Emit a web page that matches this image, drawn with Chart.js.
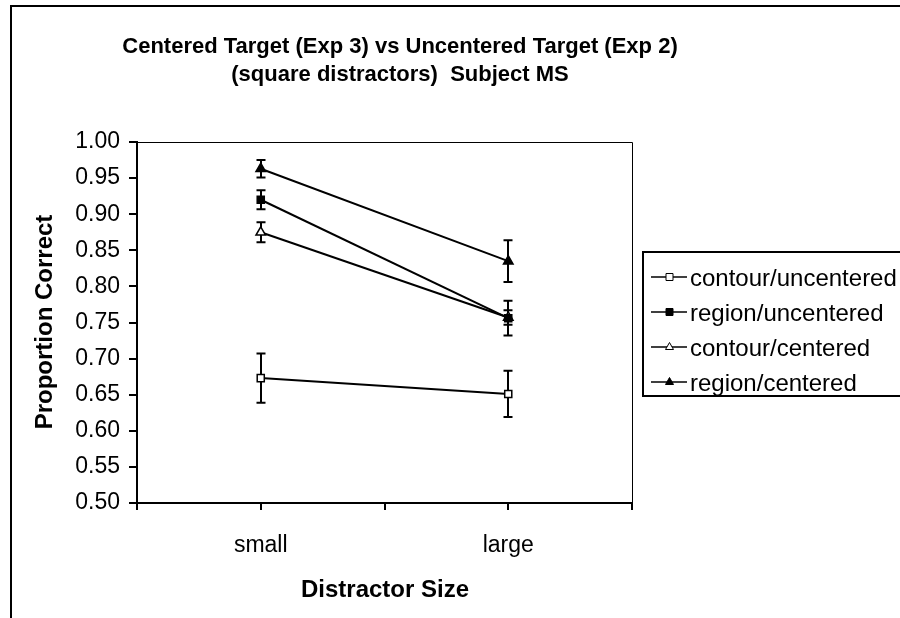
<!DOCTYPE html>
<html><head><meta charset="utf-8">
<script src="https://cdn.jsdelivr.net/npm/chart.js@4"></script>
<style>html,body{margin:0;padding:0;background:#fff;overflow:hidden;}</style>
</head><body>
<canvas id="c" width="900" height="618" style="width:900px;height:618px;display:block"></canvas>
<script>
// ---- data ----
const categories = ['small', 'large'];
const categoryPositions = [1, 3];
const xTickPositions = [0, 1, 2, 3, 4];
const yTickValues = [0.50, 0.55, 0.60, 0.65, 0.70, 0.75, 0.80, 0.85, 0.90, 0.95, 1.00];
const seriesLabels = ['contour/uncentered', 'region/uncentered', 'contour/centered', 'region/centered'];
const contourUncentered    = [0.673, 0.651];
const contourUncenteredErr = [0.034, 0.032];
const regionUncentered     = [0.920, 0.756];
const regionUncenteredErr  = [0.013, 0.024];
const contourCentered      = [0.875, 0.757];
const contourCenteredErr   = [0.014, 0.010];
const regionCentered       = [0.963, 0.835];
const regionCenteredErr    = [0.012, 0.029];
const titleLines = ['Centered Target (Exp 3) vs Uncentered Target (Exp 2)', '(square distractors)  Subject MS'];
const xTitle = 'Distractor Size';
const yTitle = 'Proportion Correct';

const FONT = '"Liberation Sans", Arial, sans-serif';

function mk(label, vals, errs, style, fill) {
  return {
    label: label,
    data: categoryPositions.map((x, i) => ({x: x, y: vals[i]})),
    errors: errs,
    borderColor: '#000', borderWidth: 2, tension: 0,
    pointStyle: style, pointRadius: style === 'rect' ? 5 : 5.5,
    pointBackgroundColor: fill, pointBorderColor: '#000', pointBorderWidth: 1.5,
    markerFill: fill
  };
}
const datasets = [
  mk(seriesLabels[0], contourUncentered, contourUncenteredErr, 'rect', '#fff'),
  mk(seriesLabels[1], regionUncentered, regionUncenteredErr, 'rect', '#000'),
  mk(seriesLabels[2], contourCentered, contourCenteredErr, 'triangle', '#fff'),
  mk(seriesLabels[3], regionCentered, regionCenteredErr, 'triangle', '#000')
];

const decor = {
  id: 'decor',
  beforeDraw(chart) {
    const ctx = chart.ctx;
    ctx.save();
    ctx.fillStyle = '#fff';
    ctx.fillRect(0, 0, chart.width, chart.height);
    ctx.strokeStyle = '#000'; ctx.lineWidth = 2;
    ctx.beginPath();
    ctx.moveTo(11, 640); ctx.lineTo(11, 6); ctx.lineTo(920, 6);
    ctx.stroke();
    ctx.restore();
  },
  beforeDatasetsDraw(chart) {
    const ctx = chart.ctx, xs = chart.scales.x, ys = chart.scales.y;
    ctx.save();
    ctx.strokeStyle = '#000'; ctx.lineWidth = 2;
    chart.data.datasets.forEach(ds => {
      ds.data.forEach((p, i) => {
        const e = ds.errors[i];
        const x = Math.round(xs.getPixelForValue(p.x));
        const y1 = ys.getPixelForValue(p.y + e), y2 = ys.getPixelForValue(p.y - e);
        ctx.beginPath();
        ctx.moveTo(x, y1); ctx.lineTo(x, y2);
        ctx.moveTo(x - 4.5, y1); ctx.lineTo(x + 4.5, y1);
        ctx.moveTo(x - 4.5, y2); ctx.lineTo(x + 4.5, y2);
        ctx.stroke();
      });
    });
    ctx.restore();
  },
  afterDraw(chart) {
    const ctx = chart.ctx, a = chart.chartArea;
    ctx.save();
    // plot frame top/right
    ctx.strokeStyle = '#000'; ctx.lineWidth = 1;
    ctx.beginPath();
    ctx.moveTo(a.left, Math.round(a.top) + 0.5);
    ctx.lineTo(Math.round(a.right) + 0.5, Math.round(a.top) + 0.5);
    ctx.lineTo(Math.round(a.right) + 0.5, a.bottom);
    ctx.stroke();
    // title
    ctx.fillStyle = '#000';
    ctx.textAlign = 'center'; ctx.textBaseline = 'middle';
    ctx.font = 'bold 22px ' + FONT;
    ctx.fillText(titleLines[0], 400, 47);
    ctx.fillText(titleLines[1], 400, 75);
    // axis titles
    ctx.font = 'bold 24px ' + FONT;
    ctx.fillText(xTitle, 385, 590);
    ctx.save();
    ctx.translate(45, 322);
    ctx.rotate(-Math.PI / 2);
    ctx.fillText(yTitle, 0, 0);
    ctx.restore();
    // legend
    const bx = 643, by = 252, bw = 300, bh = 144;
    ctx.lineWidth = 2;
    ctx.strokeRect(bx, by, bw, bh);
    ctx.save();
    ctx.beginPath(); ctx.rect(bx + 1, by + 1, bw - 2, bh - 2); ctx.clip();
    const baselines = [286, 321, 356, 391];
    ctx.font = '24px ' + FONT;
    ctx.textAlign = 'left'; ctx.textBaseline = 'alphabetic';
    chart.data.datasets.forEach((ds, i) => {
      const yb = baselines[i];
      const ym = yb - 9;
      ctx.strokeStyle = '#000'; ctx.lineWidth = 1.5;
      ctx.beginPath(); ctx.moveTo(651, ym); ctx.lineTo(687, ym); ctx.stroke();
      ctx.fillStyle = ds.markerFill; ctx.lineWidth = 1;
      ctx.beginPath();
      if (ds.pointStyle === 'rect') {
        ctx.rect(666, ym - 3.5, 7, 7);
      } else {
        ctx.moveTo(669.5, ym - 4.5); ctx.lineTo(673.5, ym + 2.5); ctx.lineTo(665.5, ym + 2.5); ctx.closePath();
      }
      ctx.fill(); ctx.stroke();
      ctx.fillStyle = '#000';
      ctx.fillText(ds.label, 690, yb);
    });
    ctx.restore();
    ctx.restore();
  }
};

new Chart(document.getElementById('c'), {
  type: 'line',
  data: { datasets: datasets },
  options: {
    responsive: false, animation: false, devicePixelRatio: 1,
    layout: { padding: { left: 0, top: 142, right: 268, bottom: 0 } },
    plugins: { legend: { display: false }, title: { display: false }, tooltip: { enabled: false } },
    scales: {
      x: {
        type: 'linear', min: 0, max: 4,
        afterBuildTicks(s) { s.ticks = xTickPositions.map(v => ({value: v})); },
        afterFit(s) { s.height = 115; },
        ticks: {
          autoSkip: false, maxRotation: 0, color: '#000', padding: 22,
          font: { family: FONT, size: 23 },
          callback(v) { const i = categoryPositions.indexOf(v); return i >= 0 ? categories[i] : ''; }
        },
        grid: { drawOnChartArea: false, drawTicks: true, tickLength: 7, color: '#000', lineWidth: 2 },
        border: { display: true, color: '#000', width: 2 }
      },
      y: {
        min: 0.5, max: 1.0,
        afterBuildTicks(s) { s.ticks = yTickValues.map(v => ({value: v})); },
        afterFit(s) { s.width = 137; },
        ticks: {
          color: '#000', padding: 9,
          font: { family: FONT, size: 23 },
          callback(v) { return Number(v).toFixed(2); }
        },
        grid: { drawOnChartArea: false, drawTicks: true, tickLength: 8, color: '#000', lineWidth: 2 },
        border: { display: true, color: '#000', width: 2 }
      }
    }
  },
  plugins: [decor]
});
</script>
</body></html>
